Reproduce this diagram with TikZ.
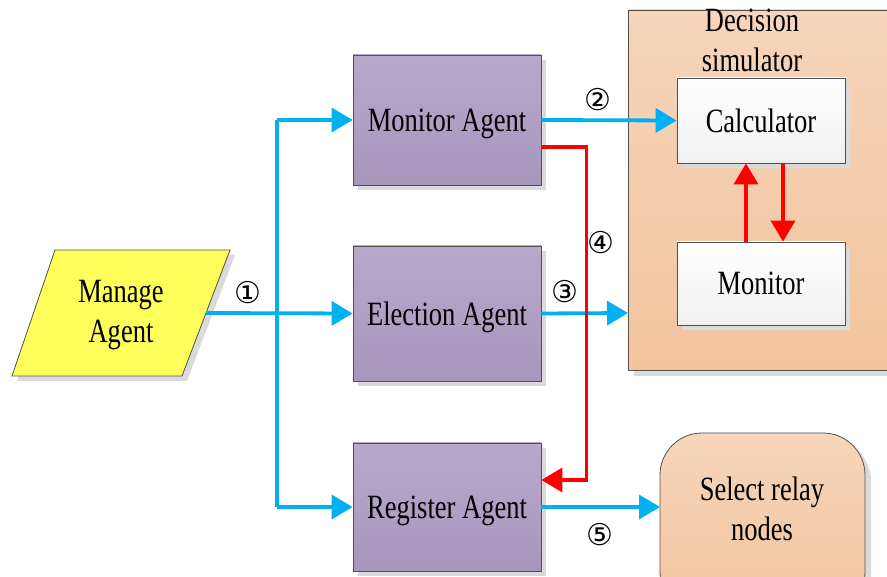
\documentclass[tikz,border=0pt]{standalone}
\usepackage{fontspec}
\setmainfont{Liberation Serif}
\newfontfamily\condfont[FakeStretch=0.78]{Liberation Serif}
\newfontfamily\symfont{DejaVu Sans}
\usetikzlibrary{arrows.meta,calc,positioning}
\definecolor{arrowblue}{HTML}{00B0F0}
\definecolor{agenttop}{HTML}{B6A9CC}
\definecolor{agentbot}{HTML}{A796BC}
\definecolor{peachtop}{HTML}{F6D5BA}
\definecolor{peachbot}{HTML}{F2C49E}
\definecolor{manageyellow}{HTML}{FFFF5C}
\definecolor{shadowgray}{HTML}{DADADA}
\definecolor{edgegray}{HTML}{505050}
\tikzset{
  txt/.style={font=\condfont\fontsize{34}{40}\selectfont, align=center, text=black},
  shade1/.style={preaction={fill=shadowgray, transform canvas={xshift=5pt,yshift=-5pt}}},
  agentbox/.style={draw=edgegray, line width=0.8pt, top color=agenttop, bottom color=agentbot,
    minimum width=188pt, inner sep=0pt, txt, text depth=0pt, shade1},
  whitebox/.style={draw=edgegray, line width=0.8pt, top color=white, bottom color=black!6,
    minimum width=168pt, inner sep=0pt, txt, shade1},
  bluearrow/.style={draw=arrowblue, line width=3.8pt, -{Triangle[length=21pt,width=24pt]}},
  blueline/.style={draw=arrowblue, line width=3.8pt},
  redarrow/.style={draw=red, line width=3.8pt, -{Triangle[length=21pt,width=24pt]}},
  numlab/.style={font=\symfont\fontsize{30}{30}\selectfont, text=black, inner sep=0pt},
}
\begin{document}
\begin{tikzpicture}[x=1pt,y=-1pt]
\useasboundingbox (0,0) rectangle (887,577);

% Decision simulator container
\fill[shadowgray] (634,16) rectangle (900,376);
\draw[edgegray, line width=0.8pt, top color=peachtop, bottom color=peachbot] (628,10) rectangle (900,370);
\node[txt] (dectitle) at (752,40) {Decision\\simulator};
\coordinate (decwest) at (628,313);

% Manage Agent parallelogram
\coordinate (m1) at (55,250);
\coordinate (m2) at (230,250);
\coordinate (m3) at (182,376);
\coordinate (m4) at (12,376);
\fill[shadowgray] ($(m1)+(5,5)$) -- ($(m2)+(5,5)$) -- ($(m3)+(5,5)$) -- ($(m4)+(5,5)$) -- cycle;
\draw[edgegray, line width=0.8pt, fill=manageyellow] (m1) -- (m2) -- (m3) -- (m4) -- cycle;
\node[txt] (manage) at (121,315) {Manage\\Agent};
\coordinate (manageout) at (206,313);

% Agents
\node[agentbox, minimum height=130pt] (monagent) at (447,120) {Monitor Agent};
\node[agentbox, minimum height=135pt] (elecagent) at (447,313.5) {Election Agent};
\node[agentbox, minimum height=128pt] (regagent) at (447,507) {Register Agent};

% Calculator / Monitor
\node[whitebox, minimum height=85pt] (calc) at (761,120.5) {Calculator};
\node[whitebox, minimum height=83pt] (mon) at (761,283.5) {Monitor};

% Select relay nodes
\fill[shadowgray, rounded corners=42pt] (666,439) rectangle (871,620);
\draw[edgegray, line width=0.8pt, top color=peachtop, bottom color=peachbot, rounded corners=42pt] (660,433) rectangle (865,614);
\node[txt] (select) at (762,509) {Select relay\\nodes};
\coordinate (selwest) at (660,507);

% Blue connectors
\coordinate (jtop) at (277,120);
\coordinate (jbot) at (277,507);
\draw[blueline] (jtop) -- (jbot);
\draw[bluearrow] (manageout) -- (elecagent.west);
\draw[bluearrow] (jtop) -- (monagent.west);
\draw[bluearrow] (jbot) -- (regagent.west);
\draw[bluearrow] (monagent.east) -- (calc.west);
\draw[bluearrow] (elecagent.east) -- (decwest);
\draw[bluearrow] (regagent.east) -- (selwest);

% Red connectors
\coordinate (r1) at ($(monagent.east)+(0,27)$);
\coordinate (r2) at ($(regagent.east)+(0,-27)$);
\draw[redarrow] (r1) -- ++(45,0) |- (r2);
\draw[redarrow] ($(mon.north)+(-15,0)$) -- ($(calc.south)+(-15,0)$);
\draw[redarrow] ($(calc.south)+(22,0)$) -- ($(mon.north)+(22,0)$);

% Labels
\node[numlab] (l1) at (248,293) {①};
\node[numlab] (l2) at (598,100) {②};
\node[numlab] (l3) at (565,292) {③};
\node[numlab] (l4) at (601,243) {④};
\node[numlab] (l5) at (600,535) {⑤};
\end{tikzpicture}
\end{document}
